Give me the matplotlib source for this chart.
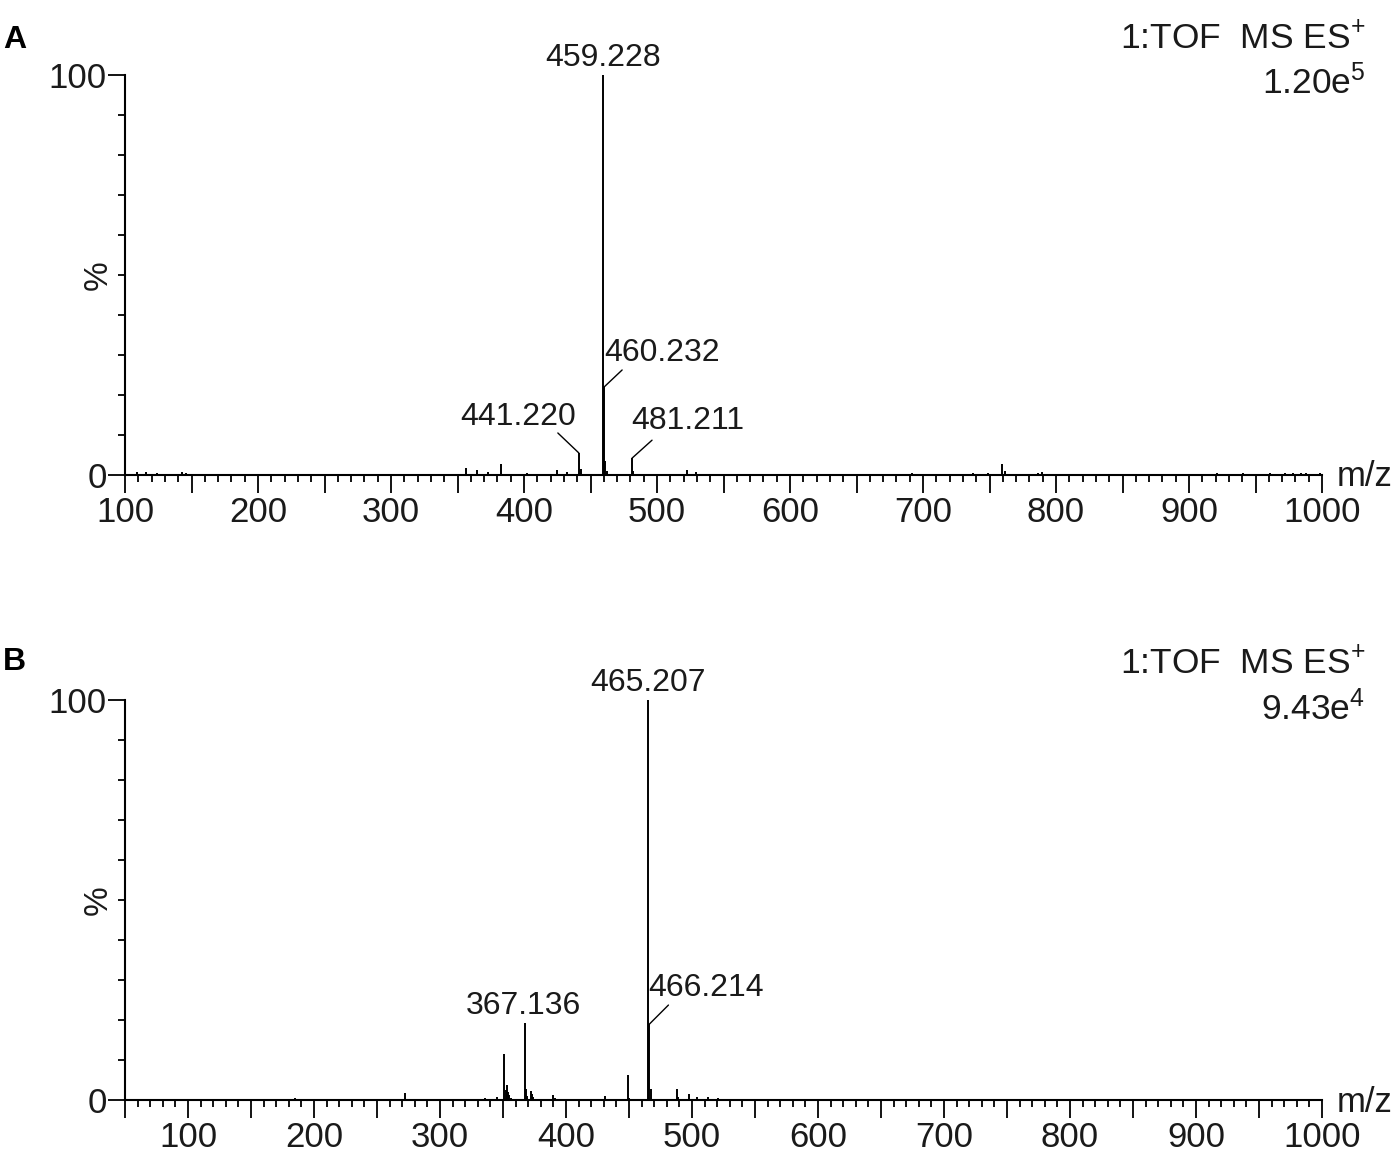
import matplotlib
matplotlib.use('Agg')
import matplotlib.pyplot as plt
from matplotlib.ticker import MultipleLocator, FuncFormatter, FixedLocator

plt.rcParams['font.family'] = ['Liberation Sans', 'DejaVu Sans']
plt.rcParams['mathtext.fontset'] = 'custom'
plt.rcParams['mathtext.rm'] = 'Liberation Sans'
plt.rcParams['mathtext.default'] = 'regular'

# panel A spectrum (m/z, relative intensity %)
mz_a = [108.8, 116.0, 123.8, 142.6, 145.8, 356.4, 364.4, 373.0, 382.7, 402.0,
        424.6, 432.6, 441.220, 443.0, 459.228, 460.232, 461.2, 462.2, 481.211, 482.2,
        522.2, 529.3, 691.5, 737.6, 749.0, 759.2, 761.6, 786.5, 789.2,
        920.8, 940.6, 960.9, 972.0, 978.0, 984.0, 988.0, 998.5]
int_a = [0.8, 0.8, 0.5, 0.8, 0.5, 1.7, 1.25, 0.7, 2.7, 0.5,
         1.2, 0.7, 5.5, 1.5, 100, 22, 3.5, 1.0, 4.2, 1.0,
         1.2, 0.7, 0.5, 0.5, 0.6, 2.7, 1.0, 0.6, 0.8,
         0.5, 0.4, 0.5, 0.4, 0.4, 0.4, 0.4, 0.4]

# panel B spectrum
mz_b = [185.0, 272.0, 336.0, 345.0, 351.1, 352.1, 353.1, 354.1, 355.0, 356.0,
        367.136, 368.1, 369.1, 372.0, 373.0, 374.0, 389.7, 391.0, 431.0, 449.0,
        450.0, 465.207, 466.214, 467.2, 488.0, 489.0, 497.6, 504.0, 512.7, 520.6]
int_b = [0.5, 1.8, 0.5, 0.7, 11.5, 2.5, 3.7, 2.0, 1.2, 0.6,
         19.2, 2.8, 1.0, 2.3, 1.6, 0.8, 1.2, 0.6, 1.0, 6.2,
         0.6, 100, 19, 2.7, 2.7, 0.8, 1.5, 0.7, 0.8, 0.5]

xlim_a = (100, 1000)
xlim_b = (50, 1000)

# labelled peaks: (m/z, %, text offset px, leader end offset px or None, ha)
labels_a = [
    (459.228, 100, (0, 9), None, 'center'),
    (460.232, 22, (0, 26), (18, 17), 'left'),
    (441.220, 5.5, (-61, 28), (-21, 20), 'center'),
    (481.211, 4.2, (56, 29), (20, 18), 'center'),
]
labels_b = [
    (465.207, 100, (0, 9), None, 'center'),
    (466.214, 19, (-1, 28), (19, 19), 'left'),
    (367.136, 19.2, (-1, 9), None, 'center'),
]

header_a = ['1:TOF  MS ES$^{+}$', '1.20e$^{5}$']
header_b = ['1:TOF  MS ES$^{+}$', '9.43e$^{4}$']

text_col = '#1a1a1a'
fig = plt.figure(figsize=(14, 11.52), dpi=100)


def draw_panel(rect, mz, inten, xlim, labels, header, letter, letter_y):
    ax = fig.add_axes(rect)
    ax.vlines(mz, 0, inten, color='black', lw=1.4)
    ax.set_xlim(*xlim)
    ax.set_ylim(0, 100)
    for s in ['top', 'right']:
        ax.spines[s].set_visible(False)
    for s in ['left', 'bottom']:
        ax.spines[s].set_linewidth(1.5)
    ax.xaxis.set_major_locator(MultipleLocator(50))
    ax.xaxis.set_minor_locator(MultipleLocator(10))
    ax.xaxis.set_major_formatter(FuncFormatter(
        lambda v, p: '%d' % v if round(v) % 100 == 0 else ''))
    ax.yaxis.set_major_locator(FixedLocator([0, 100]))
    ax.yaxis.set_minor_locator(MultipleLocator(10))
    ax.tick_params(axis='x', which='major', length=13, width=1.3, pad=2,
                   labelsize=25, labelcolor=text_col)
    ax.tick_params(axis='x', which='minor', length=5, width=1.3)
    ax.tick_params(axis='y', which='major', length=12, width=1.3, pad=1,
                   labelsize=25, labelcolor=text_col)
    ax.tick_params(axis='y', which='minor', length=5, width=1.3)
    ax.text(-0.022, 0.5, '%', transform=ax.transAxes, rotation=90,
            ha='center', va='center', fontsize=24, color=text_col)
    ax.text(1.012, -0.005, 'm/z', transform=ax.transAxes, ha='left',
            va='center', fontsize=25, color=text_col)

    for m, h, toff, loff, ha in labels:
        if loff is not None:
            ax.annotate('', xy=(m, h), xytext=loff, textcoords='offset pixels',
                        arrowprops=dict(arrowstyle='-', lw=1.0, color='black',
                                        shrinkA=0, shrinkB=0))
        ax.annotate('%.3f' % m, xy=(m, h), xytext=toff,
                    textcoords='offset pixels', ha=ha, va='baseline',
                    fontsize=23, color=text_col, annotation_clip=False)

    ax.text(1.036, 1.09, header[0], transform=ax.transAxes, ha='right',
            va='center', fontsize=25.5, color=text_col)
    ax.text(1.036, 0.98, header[1], transform=ax.transAxes, ha='right',
            va='center', fontsize=25.5, color=text_col)
    fig.text(0.002, letter_y, letter, ha='left', va='center',
             fontsize=23, fontweight='bold', color='black')
    return ax


draw_panel([0.0893, 0.5877, 0.855, 0.3472], mz_a, int_a, xlim_a, labels_a,
           header_a, 'A', 1 - 40 / 1152)
draw_panel([0.0893, 0.0451, 0.855, 0.3472], mz_b, int_b, xlim_b, labels_b,
           header_b, 'B', 1 - 662 / 1152)

fig.savefig('out.png', dpi=100)
